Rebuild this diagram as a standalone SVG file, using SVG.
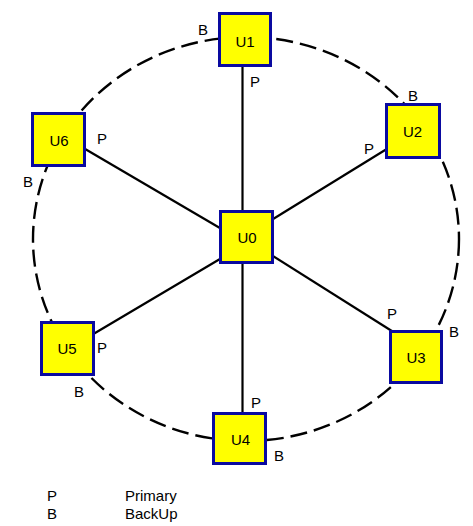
<svg xmlns="http://www.w3.org/2000/svg" width="473" height="526" viewBox="0 0 473 526">
<style>
.ring{fill:none;stroke:#000;stroke-width:2.4;stroke-dasharray:17 7}
.link{stroke:#000;stroke-width:2.2}
.box{fill:#ffff00;stroke:#0a0aa0;stroke-width:3}
text{font-family:"Liberation Sans",Arial,sans-serif;font-size:15px;fill:#000}
.c{text-anchor:middle}
</style>
<rect width="473" height="526" fill="#fff"/>
<ellipse class="ring" cx="246" cy="239" rx="213" ry="202"/>
<g id="connectors">
<line class="link" x1="242.5" y1="60" x2="242.5" y2="215"/>
<line class="link" x1="242.5" y1="260" x2="242.5" y2="418"/>
<line class="link" x1="390" y1="147" x2="265" y2="224"/>
<line class="link" x1="265" y1="251" x2="395" y2="333"/>
<line class="link" x1="80" y1="146" x2="225" y2="231"/>
<line class="link" x1="90" y1="336" x2="225" y2="256"/>
</g>
<g id="U1"><rect class="box" x="219.5" y="13.5" width="51" height="52"/><text class="c" x="245" y="47">U1</text></g>
<g id="U2"><rect class="box" x="386.5" y="104.5" width="53" height="53"/><text class="c" x="412.5" y="137">U2</text></g>
<g id="U6"><rect class="box" x="32.5" y="113.5" width="52" height="52"/><text class="c" x="59" y="146">U6</text></g>
<g id="U0"><rect class="box" x="220.5" y="211.5" width="52" height="51"/><text class="c" x="247" y="243">U0</text></g>
<g id="U5"><rect class="box" x="41.5" y="322.5" width="52" height="52"/><text class="c" x="67" y="354">U5</text></g>
<g id="U3"><rect class="box" x="390.5" y="331.5" width="51" height="51"/><text class="c" x="416" y="363">U3</text></g>
<g id="U4"><rect class="box" x="213.5" y="413.5" width="52" height="50"/><text class="c" x="240.5" y="445">U4</text></g>
<g id="labels">
<text x="198" y="35">B</text><text x="250" y="87">P</text>
<text x="408" y="101">B</text><text x="364" y="154">P</text>
<text x="97" y="144">P</text><text x="23" y="187">B</text>
<text x="97" y="353">P</text><text x="74" y="397">B</text>
<text x="387" y="319">P</text><text x="449" y="337">B</text>
<text x="251" y="408">P</text><text x="274" y="461">B</text>
</g>
<g id="legend">
<text x="47" y="501">P</text><text x="125" y="501">Primary</text>
<text x="47" y="519">B</text><text x="125" y="519">BackUp</text>
</g>
</svg>
